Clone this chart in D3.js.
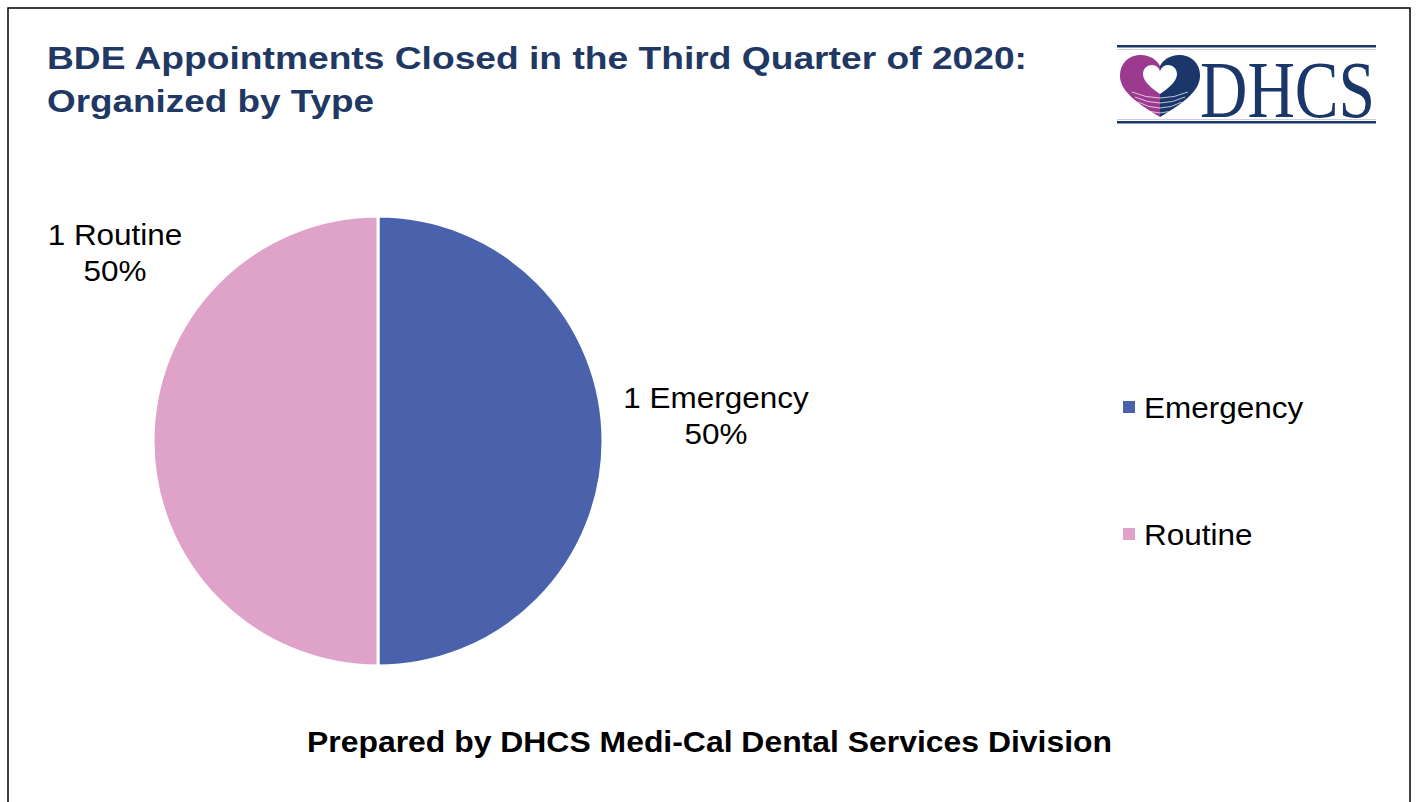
<!DOCTYPE html>
<html><head><meta charset="utf-8">
<script src="https://cdn.jsdelivr.net/npm/d3@7"></script>
<style>html,body{margin:0;padding:0;background:#fff;}svg{display:block;}</style>
</head><body>
<svg id="chart" width="1416" height="802"></svg>
<script>
const categories = ["Emergency", "Routine"];
const values = [1, 1];
const percentLabels = ["50%", "50%"];
const colors = ["#4A62AC", "#DFA2C8"];
const titleLines = ["BDE Appointments Closed in the Third Quarter of 2020:", "Organized by Type"];
const footer = "Prepared by DHCS Medi-Cal Dental Services Division";

const svg = d3.select("#chart");
const font = "Liberation Sans, Arial, sans-serif";
const stretch = 1.085;

function fitText(sel, widthFactor) {
  sel.each(function () {
    const w = this.getComputedTextLength();
    d3.select(this).attr("textLength", w * widthFactor).attr("lengthAdjust", "spacingAndGlyphs");
  });
}

// frame
svg.append("path").attr("d", "M8,810 V8 H1410 V810").attr("fill", "none").attr("stroke", "#000").attr("stroke-width", 1.5);

// title
const titleWidths = [980, 327];
svg.append("g").selectAll("text").data(titleLines).join("text")
  .attr("x", 47).attr("y", (d, i) => 69 + i * 43)
  .attr("font-family", font).attr("font-weight", "bold").attr("font-size", 31)
  .attr("fill", "#1F3864").text(d => d)
  .attr("textLength", (d, i) => titleWidths[i]).attr("lengthAdjust", "spacingAndGlyphs");

// pie
const cx = 378, cy = 441, r = 225;
const pie = d3.pie().sort(null).value(d => d)(values);
const arc = d3.arc().innerRadius(0).outerRadius(r);
const g = svg.append("g").attr("transform", `translate(${cx},${cy})`);
g.selectAll("path").data(pie).join("path")
  .attr("d", arc).attr("fill", (d, i) => colors[i])
  .attr("stroke", "#fff").attr("stroke-width", 3);

// data labels
const labelPos = [[716, 408], [115, 245]];
const lg = svg.append("g").attr("font-family", font).attr("font-size", 29).attr("fill", "#000").attr("text-anchor", "middle");
categories.forEach((c, i) => {
  lg.append("text").attr("x", labelPos[i][0]).attr("y", labelPos[i][1]).text(values[i] + " " + c).call(fitText, stretch);
  lg.append("text").attr("x", labelPos[i][0]).attr("y", labelPos[i][1] + 36).text(percentLabels[i]).call(fitText, stretch);
});

// legend
const leg = svg.append("g").attr("font-family", font).attr("font-size", 29);
const legY = d3.scalePoint().domain(categories).range([407, 534]);
categories.forEach((c, i) => {
  leg.append("rect").attr("x", 1123).attr("y", legY(c) - 6).attr("width", 12).attr("height", 12).attr("fill", colors[i]);
  leg.append("text").attr("x", 1144).attr("y", legY(c) + 11).attr("fill", "#000").text(c).call(fitText, stretch);
});

// footer
svg.append("text").attr("x", 709.5).attr("y", 752).attr("text-anchor", "middle")
  .attr("font-family", font).attr("font-weight", "bold").attr("font-size", 30).attr("fill", "#000").text(footer)
  .attr("textLength", 805).attr("lengthAdjust", "spacingAndGlyphs");

// logo
const logo = svg.append("g");
const navy = "#1B3668", purple = "#9B3A8E";
logo.append("rect").attr("x", 1117).attr("y", 45).attr("width", 259).attr("height", 2.5).attr("fill", navy);
logo.append("rect").attr("x", 1117).attr("y", 121).attr("width", 259).attr("height", 2.5).attr("fill", navy);
logo.append("rect").attr("x", 1117).attr("y", 49).attr("width", 259).attr("height", 1).attr("fill", "#c9cfdc");
logo.append("rect").attr("x", 1117).attr("y", 119).attr("width", 259).attr("height", 1).attr("fill", "#c9cfdc");
logo.append("path").attr("d", "M1160,117 C1140,105 1120,92 1120,76 C1120,62 1130,55 1141,55 C1150,55 1157,60 1160,66 Z").attr("fill", purple);
logo.append("path").attr("d", "M1160,117 C1180,105 1200,92 1200,76 C1200,62 1190,55 1179,55 C1170,55 1163,60 1160,66 Z").attr("fill", navy);
logo.append("path").attr("d", "M1160,94 C1150,87 1143,81 1143,74 C1143,68 1148,65 1152,65 C1156,65 1159,68 1160,71 C1161,68 1164,65 1168,65 C1172,65 1177,68 1177,74 C1177,81 1170,87 1160,94 Z").attr("fill", "#fff");
[0, 1, 2, 3].forEach(k => {
  logo.append("path").attr("d", `M${1132 + k * 3},${92 + k * 5} Q1160,${104 + k * 5} ${1188 - k * 3},${92 + k * 5}`)
    .attr("fill", "none").attr("stroke", "#fff").attr("stroke-width", 1).attr("opacity", 0.7);
});
logo.append("text").attr("x", 1200).attr("y", 117)
  .attr("font-family", "Liberation Serif, Times New Roman, serif").attr("font-size", 80)
  .attr("textLength", 175).attr("lengthAdjust", "spacingAndGlyphs").attr("fill", navy).text("DHCS");
</script>
</body></html>
